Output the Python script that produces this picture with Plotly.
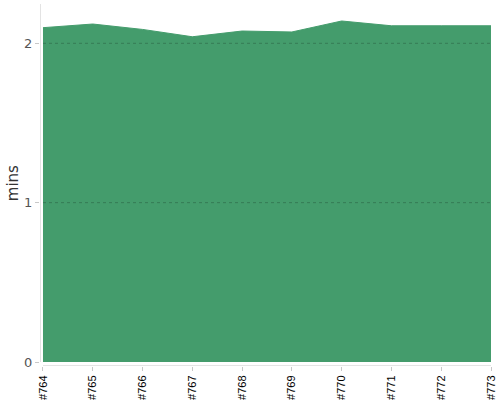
import plotly.graph_objects as go

# builds and their durations (minutes)
builds = ["#764", "#765", "#766", "#767", "#768", "#769", "#770", "#771", "#772", "#773"]
mins = [2.098, 2.121, 2.087, 2.041, 2.077, 2.071, 2.140, 2.110, 2.110, 2.110]
y_ticks = [0, 1, 2]

green = "#449c6c"
axis_grey = "#c8c8c8"
y_top = 2.2466
y_pad = -0.025
x_pad = -0.06

fig = go.Figure()
fig.add_trace(go.Scatter(
    x=list(range(len(builds))),
    y=mins,
    mode="lines",
    fill="tozeroy",
    fillcolor=green,
    line=dict(color=green, width=1),
    hoverinfo="skip",
))

# axis lines sit slightly apart from the area, like the original
shapes = [
    dict(type="line", xref="x", yref="y", x0=x_pad, x1=x_pad, y0=0, y1=y_top,
         line=dict(color=axis_grey, width=1)),
    dict(type="line", xref="x", yref="y", x0=0, x1=len(builds) - 1, y0=y_pad, y1=y_pad,
         line=dict(color=axis_grey, width=1)),
]
# dotted grid drawn over the fill
for t in y_ticks[1:]:
    shapes.append(dict(type="line", xref="x", yref="y", x0=0, x1=len(builds) - 1,
                       y0=t, y1=t, layer="above",
                       line=dict(color="rgba(0,0,0,0.22)", width=1, dash="dot")))

fig.update_layout(
    width=500,
    height=400,
    margin=dict(l=40, r=9, t=4, b=34, autoexpand=False),
    plot_bgcolor="white",
    paper_bgcolor="white",
    showlegend=False,
    shapes=shapes,
    font=dict(family="DejaVu Sans", color="#444"),
    xaxis=dict(
        range=[x_pad, len(builds) - 1],
        tickmode="array",
        tickvals=list(range(len(builds))),
        ticktext=builds,
        tickangle=-90,
        ticks="outside",
        ticklen=4,
        tickcolor=axis_grey,
        tickfont=dict(family="Liberation Sans", size=11, color="#000"),
        showgrid=False,
        showline=False,
        zeroline=False,
        automargin=False,
        fixedrange=True,
    ),
    yaxis=dict(
        range=[y_pad, y_top],
        tickvals=y_ticks,
        ticks="outside",
        ticklen=4,
        tickcolor=axis_grey,
        tickfont=dict(family="DejaVu Sans", size=13, color="#555"),
        showgrid=False,
        showline=False,
        zeroline=False,
        automargin=False,
        fixedrange=True,
    ),
)

# y title as an annotation so it can sit where the original has it
fig.add_annotation(
    text="mins", xref="paper", yref="paper", x=0, y=0.505,
    xanchor="center", yanchor="middle", xshift=-27, textangle=-90,
    showarrow=False, font=dict(family="DejaVu Sans", size=15, color="#333"),
)

# the page's default body margin would push the chart off the window
fig.write_html("out.html", config={"displayModeBar": False},
               post_script="document.body.style.margin='0';")
